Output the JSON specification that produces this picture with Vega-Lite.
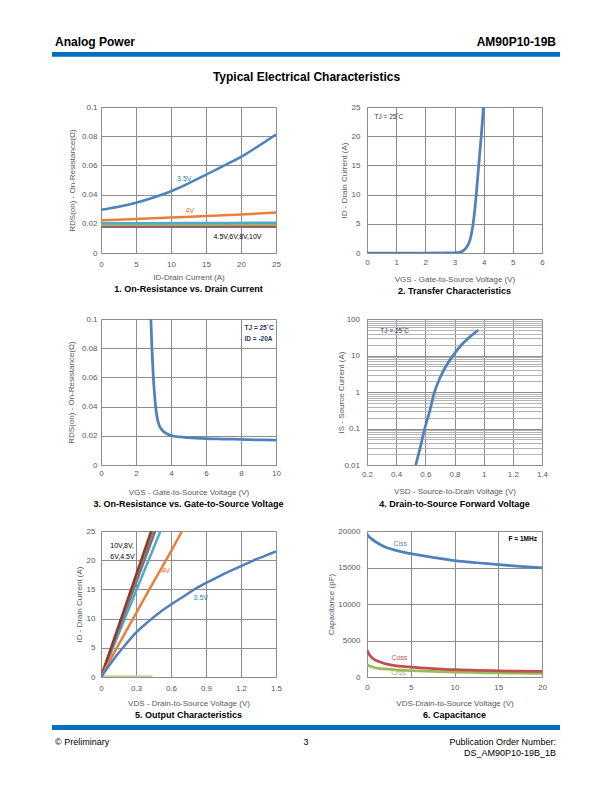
{
  "$schema": "https://vega.github.io/schema/vega-lite/v6.json",
  "padding": 0,
  "autosize": {"type": "pad"},
  "background": "white",
  "bounds": "flush",
  "columns": 2,
  "align": "each",
  "spacing": {"row": 66, "column": 91},
  "resolve": {"scale": {"x": "independent", "y": "independent", "color": "independent"}},
  "config": {
    "font": "Liberation Sans",
    "view": {"stroke": null},
    "axis": {
      "labelFont": "Liberation Sans", "labelFontSize": 8, "labelColor": "#595959",
      "titleFont": "Liberation Sans", "titleFontSize": 8, "titleFontWeight": "normal", "titleColor": "#595959",
      "gridColor": "#8c8c8c", "gridWidth": 1, "domainColor": "#8c8c8c", "domainWidth": 1,
      "ticks": false, "tickSize": 0, "labelOverlap": false, "labelFlush": false, "labelBound": false,
      "titleBaseline": "middle", "tickCount": 100
    },
    "title": {"font": "Liberation Sans", "fontSize": 9, "fontWeight": "bold", "color": "#000000", "orient": "bottom", "anchor": "middle", "offset": 4},
    "text": {"font": "Liberation Sans"}
  },
  "concat": [
    {
      "width": 175, "height": 11,
      "layer": [
        {"data": {"values": [{"k": "page"}]}, "mark": {"type": "rect", "fill": "white"},
         "encoding": {"x": {"value": -101}, "x2": {"value": 511}, "y": {"value": -30}, "y2": {"value": 762}}},
        {"data": {"values": [{"k": "bar"}]}, "mark": {"type": "rect", "fill": "#0070C0"},
         "encoding": {"x": {"value": -49}, "x2": {"value": 459}, "y": {"value": 22}, "y2": {"value": 26.7}}},
        {"data": {"values": [{"t": "Analog Power"}]}, "mark": {"type": "text", "align": "left", "baseline": "alphabetic", "fontSize": 12, "fontWeight": "bold", "color": "#000000"},
         "encoding": {"text": {"field": "t"}, "x": {"value": -46}, "y": {"value": 16}}},
        {"data": {"values": [{"t": "Typical Electrical Characteristics"}]}, "mark": {"type": "text", "align": "center", "baseline": "alphabetic", "fontSize": 12, "fontWeight": "bold", "color": "#000000"},
         "encoding": {"text": {"field": "t"}, "x": {"value": 205.5}, "y": {"value": 51}}}
      ]
    },
    {
      "width": 175, "height": 11,
      "data": {"values": [{"t": "AM90P10-19B"}]},
      "mark": {"type": "text", "align": "right", "baseline": "alphabetic", "fontSize": 12, "fontWeight": "bold", "color": "#000000"},
      "encoding": {"text": {"field": "t"}, "x": {"value": 189}, "y": {"value": 16}}
    },
    {
      "width": 175, "height": 146,
      "title": {"text": "1. On-Resistance vs. Drain Current"},
      "layer": [
        {
          "data": {"values": [
            {"s": "10V", "x": 0, "y": 0.0179}, {"s": "10V", "x": 25, "y": 0.018},
            {"s": "8V", "x": 0, "y": 0.0186}, {"s": "8V", "x": 25, "y": 0.0187},
            {"s": "6V", "x": 0, "y": 0.0193}, {"s": "6V", "x": 25, "y": 0.0195},
            {"s": "4.5V", "x": 0, "y": 0.0204}, {"s": "4.5V", "x": 12.5, "y": 0.0205}, {"s": "4.5V", "x": 25, "y": 0.0207},
            {"s": "4V", "x": 0, "y": 0.0224}, {"s": "4V", "x": 5, "y": 0.0233}, {"s": "4V", "x": 10, "y": 0.0243}, {"s": "4V", "x": 15, "y": 0.0253}, {"s": "4V", "x": 20, "y": 0.0264}, {"s": "4V", "x": 25, "y": 0.0277},
            {"s": "3.5V", "x": 0, "y": 0.0296}, {"s": "3.5V", "x": 2.5, "y": 0.0317}, {"s": "3.5V", "x": 5, "y": 0.0344}, {"s": "3.5V", "x": 7.5, "y": 0.038}, {"s": "3.5V", "x": 10, "y": 0.0423}, {"s": "3.5V", "x": 12.5, "y": 0.0477}, {"s": "3.5V", "x": 15, "y": 0.0536}, {"s": "3.5V", "x": 17.5, "y": 0.0597}, {"s": "3.5V", "x": 20, "y": 0.0658}, {"s": "3.5V", "x": 22.5, "y": 0.0733}, {"s": "3.5V", "x": 25, "y": 0.0812}
          ]},
          "mark": {"type": "line", "interpolate": "monotone", "strokeWidth": 2.5, "clip": true},
          "encoding": {
            "x": {"field": "x", "type": "quantitative", "scale": {"domain": [0, 25], "nice": false},
                  "axis": {"title": "ID-Drain Current (A)", "values": [0, 5, 10, 15, 20, 25], "tickCount": 100, "format": "d", "labelPadding": 7, "titleY": 24}},
            "y": {"field": "y", "type": "quantitative", "scale": {"domain": [0, 0.1], "nice": false},
                  "axis": {"title": "RDS(on) - On-Resistance(Ω)", "values": [0, 0.02, 0.04, 0.06, 0.08, 0.1], "tickCount": 100, "format": ".2~f", "labelPadding": 4, "titleX": -29, "titleY": 73}},
            "color": {"field": "s", "type": "nominal", "legend": null,
                      "scale": {"domain": ["10V", "8V", "6V", "4.5V", "4V", "3.5V"], "range": ["#8064A2", "#C0504D", "#9BBB59", "#4BACC6", "#E8803A", "#4F81BD"]}}
          }
        },
        {"data": {"values": [{"t": "3.5V"}]}, "mark": {"type": "text", "fontSize": 7, "color": "#31859C"},
         "encoding": {"text": {"field": "t"}, "x": {"datum": 11.9}, "y": {"datum": 0.0507}}},
        {"data": {"values": [{"t": "4V"}]}, "mark": {"type": "text", "fontSize": 7, "color": "#E46C0A"},
         "encoding": {"text": {"field": "t"}, "x": {"datum": 12.7}, "y": {"datum": 0.0285}}},
        {"data": {"values": [{"t": "4.5V,6V,8V,10V"}]}, "mark": {"type": "text", "fontSize": 7, "color": "#000000"},
         "encoding": {"text": {"field": "t"}, "x": {"datum": 19.5}, "y": {"datum": 0.011}}}
      ]
    },
    {
      "width": 175, "height": 146,
      "title": {"text": "2. Transfer Characteristics"},
      "layer": [
        {
          "data": {"values": [
            {"x": 0, "y": 0}, {"x": 1, "y": 0}, {"x": 2, "y": 0}, {"x": 3, "y": 0.02}, {"x": 3.1, "y": 0.05}, {"x": 3.2, "y": 0.15}, {"x": 3.3, "y": 0.4}, {"x": 3.4, "y": 0.9}, {"x": 3.5, "y": 1.8}, {"x": 3.55, "y": 2.6}, {"x": 3.6, "y": 3.8}, {"x": 3.65, "y": 5.4}, {"x": 3.7, "y": 7.6}, {"x": 3.75, "y": 10.2}, {"x": 3.8, "y": 13.2}, {"x": 3.85, "y": 16.1}, {"x": 3.9, "y": 19.1}, {"x": 3.95, "y": 22.1}, {"x": 3.99, "y": 25}
          ]},
          "mark": {"type": "line", "interpolate": "monotone", "strokeWidth": 2.75, "color": "#4F81BD", "clip": true},
          "encoding": {
            "x": {"field": "x", "type": "quantitative", "scale": {"domain": [0, 6], "nice": false},
                  "axis": {"title": "VGS - Gate-to-Source Voltage (V)", "values": [0, 1, 2, 3, 4, 5, 6], "tickCount": 100, "format": "d", "labelPadding": 5, "titleY": 26}},
            "y": {"field": "y", "type": "quantitative", "scale": {"domain": [0, 25], "nice": false},
                  "axis": {"title": "ID - Drain Current (A)", "values": [0, 5, 10, 15, 20, 25], "tickCount": 100, "format": "d", "labelPadding": 7, "titleX": -23, "titleY": 73}}
          }
        },
        {"data": {"values": [{"t": "TJ = 25˚C"}]}, "mark": {"type": "text", "fontSize": 6.5, "color": "#1F3864"},
         "encoding": {"text": {"field": "t"}, "x": {"datum": 0.75}, "y": {"datum": 23.3}}}
      ]
    },
    {
      "width": 175, "height": 146,
      "title": {"text": "3. On-Resistance vs. Gate-to-Source Voltage"},
      "layer": [
        {
          "data": {"values": [
            {"x": 2.85, "y": 0.1}, {"x": 2.88, "y": 0.09}, {"x": 2.91, "y": 0.08}, {"x": 2.95, "y": 0.07}, {"x": 2.99, "y": 0.06}, {"x": 3.05, "y": 0.05}, {"x": 3.12, "y": 0.04}, {"x": 3.2, "y": 0.033}, {"x": 3.3, "y": 0.028}, {"x": 3.45, "y": 0.0245}, {"x": 3.7, "y": 0.0218}, {"x": 4, "y": 0.0202}, {"x": 4.5, "y": 0.0192}, {"x": 5, "y": 0.0187}, {"x": 6, "y": 0.0181}, {"x": 7, "y": 0.0178}, {"x": 8, "y": 0.0175}, {"x": 9, "y": 0.0172}, {"x": 10, "y": 0.017}
          ]},
          "mark": {"type": "line", "interpolate": "monotone", "strokeWidth": 2.75, "color": "#4F81BD", "clip": true},
          "encoding": {
            "x": {"field": "x", "type": "quantitative", "scale": {"domain": [0, 10], "nice": false},
                  "axis": {"title": "VGS - Gate-to-Source Voltage (V)", "values": [0, 2, 4, 6, 8, 10], "tickCount": 100, "format": "d", "labelPadding": 4.5, "titleY": 27}},
            "y": {"field": "y", "type": "quantitative", "scale": {"domain": [0, 0.1], "nice": false},
                  "axis": {"title": "RDS(on) - On-Resistance(Ω)", "values": [0, 0.02, 0.04, 0.06, 0.08, 0.1], "tickCount": 100, "format": ".2~f", "labelPadding": 4, "titleX": -30, "titleY": 73}}
          }
        },
        {"data": {"values": [{"t": "TJ = 25˚C"}]}, "mark": {"type": "text", "fontSize": 6.5, "fontWeight": "bold", "align": "left", "color": "#1F3864"},
         "encoding": {"text": {"field": "t"}, "x": {"datum": 8.2}, "y": {"datum": 0.094}}},
        {"data": {"values": [{"t": "ID = -20A"}]}, "mark": {"type": "text", "fontSize": 6.5, "fontWeight": "bold", "align": "left", "color": "#1F3864"},
         "encoding": {"text": {"field": "t"}, "x": {"datum": 8.2}, "y": {"datum": 0.086}}}
      ]
    },
    {
      "width": 175, "height": 146,
      "title": {"text": "4. Drain-to-Source Forward Voltage"},
      "layer": [
        {
          "data": {"values": [
            {"x": 0.534, "y": 0.01}, {"x": 0.565, "y": 0.03}, {"x": 0.596, "y": 0.1}, {"x": 0.63, "y": 0.3}, {"x": 0.663, "y": 1}, {"x": 0.7, "y": 2.4}, {"x": 0.74, "y": 5}, {"x": 0.79, "y": 10}, {"x": 0.85, "y": 20}, {"x": 0.9, "y": 31}, {"x": 0.963, "y": 50}
          ]},
          "mark": {"type": "line", "interpolate": "monotone", "strokeWidth": 2.75, "color": "#4F81BD", "clip": true},
          "encoding": {
            "x": {"field": "x", "type": "quantitative", "scale": {"domain": [0.2, 1.4], "nice": false, "zero": false},
                  "axis": {"title": "VSD - Source-to-Drain Voltage (V)", "values": [0.2, 0.4, 0.6, 0.8, 1, 1.2, 1.4], "tickCount": 100, "format": ".1~f", "labelPadding": 5.5, "titleY": 26.5}},
            "y": {"field": "y", "type": "quantitative", "scale": {"type": "log", "domain": [0.01, 100], "nice": false},
                  "axis": {"title": "IS - Source Current (A)",
                           "values": [0.01, 0.02, 0.03, 0.04, 0.05, 0.06, 0.07, 0.08, 0.09, 0.1, 0.2, 0.3, 0.4, 0.5, 0.6, 0.7, 0.8, 0.9, 1, 2, 3, 4, 5, 6, 7, 8, 9, 10, 20, 30, 40, 50, 60, 70, 80, 90, 100],
                           "tickCount": 100,
                           "format": ".2~f",
                           "labelExpr": "indexof(['0.01','0.1','1','10','100'], datum.label) >= 0 ? datum.label : ''",
                           "gridColor": {"condition": {"test": "indexof([0.01, 0.1, 1, 10, 100], datum.value) >= 0", "value": "#8c8c8c"}, "value": "#b4b4b4"},
                           "labelPadding": 7.5, "titleX": -26, "titleY": 73}}
          }
        },
        {"data": {"values": [{"t": "TJ = 25˚C"}]}, "mark": {"type": "text", "fontSize": 6.5, "color": "#1F3864"},
         "encoding": {"text": {"field": "t"}, "x": {"datum": 0.39}, "y": {"datum": 47}}}
      ]
    },
    {
      "width": 175, "height": 146,
      "title": {"text": "5. Output Characteristics"},
      "layer": [
        {
          "data": {"values": [
            {"s": "3V", "x": 0, "y": 0.1}, {"s": "3V", "x": 0.44, "y": 0.1},
            {"s": "4.5V", "x": 0, "y": 0}, {"s": "4.5V", "x": 0.51, "y": 25},
            {"s": "6V", "x": 0, "y": 0}, {"s": "6V", "x": 0.465, "y": 25},
            {"s": "8V", "x": 0, "y": 0}, {"s": "8V", "x": 0.445, "y": 25},
            {"s": "10V", "x": 0, "y": 0}, {"s": "10V", "x": 0.43, "y": 25},
            {"s": "4V", "x": 0, "y": 0}, {"s": "4V", "x": 0.1, "y": 3.7}, {"s": "4V", "x": 0.2, "y": 7.3}, {"s": "4V", "x": 0.3, "y": 10.9}, {"s": "4V", "x": 0.4, "y": 14.5}, {"s": "4V", "x": 0.5, "y": 18.0}, {"s": "4V", "x": 0.6, "y": 21.5}, {"s": "4V", "x": 0.695, "y": 25},
            {"s": "3.5V", "x": 0, "y": 0}, {"s": "3.5V", "x": 0.05, "y": 1.4}, {"s": "3.5V", "x": 0.1, "y": 2.8}, {"s": "3.5V", "x": 0.15, "y": 4.1}, {"s": "3.5V", "x": 0.2, "y": 5.3}, {"s": "3.5V", "x": 0.3, "y": 7.6}, {"s": "3.5V", "x": 0.4, "y": 9.4}, {"s": "3.5V", "x": 0.5, "y": 11.0}, {"s": "3.5V", "x": 0.6, "y": 12.4}, {"s": "3.5V", "x": 0.7, "y": 13.7}, {"s": "3.5V", "x": 0.8, "y": 15.0}, {"s": "3.5V", "x": 0.9, "y": 16.1}, {"s": "3.5V", "x": 1.0, "y": 17.1}, {"s": "3.5V", "x": 1.1, "y": 18.1}, {"s": "3.5V", "x": 1.2, "y": 19.0}, {"s": "3.5V", "x": 1.3, "y": 19.9}, {"s": "3.5V", "x": 1.4, "y": 20.7}, {"s": "3.5V", "x": 1.5, "y": 21.5}
          ]},
          "mark": {"type": "line", "interpolate": "monotone", "strokeWidth": 2.5, "clip": true},
          "encoding": {
            "x": {"field": "x", "type": "quantitative", "scale": {"domain": [0, 1.5], "nice": false},
                  "axis": {"title": "VDS - Drain-to-Source Voltage (V)", "values": [0, 0.3, 0.6, 0.9, 1.2, 1.5], "tickCount": 100, "format": ".1~f", "labelPadding": 7, "titleY": 26}},
            "y": {"field": "y", "type": "quantitative", "scale": {"domain": [0, 25], "nice": false},
                  "axis": {"title": "ID - Drain Current (A)", "values": [0, 5, 10, 15, 20, 25], "tickCount": 100, "format": "d", "labelPadding": 6, "titleX": -22, "titleY": 73}},
            "color": {"field": "s", "type": "nominal", "legend": null,
                      "scale": {"domain": ["3V", "4.5V", "6V", "8V", "10V", "4V", "3.5V"], "range": ["#C3D69B", "#4BACC6", "#8064A2", "#77933C", "#943634", "#E8803A", "#4F81BD"]}}
          }
        },
        {"data": {"values": [{"t": "10V,8V,"}]}, "mark": {"type": "text", "fontSize": 7, "align": "left", "color": "#000000"},
         "encoding": {"text": {"field": "t"}, "x": {"datum": 0.08}, "y": {"datum": 22.4}}},
        {"data": {"values": [{"t": "6V,4.5V"}]}, "mark": {"type": "text", "fontSize": 7, "align": "left", "color": "#000000"},
         "encoding": {"text": {"field": "t"}, "x": {"datum": 0.08}, "y": {"datum": 20.6}}},
        {"data": {"values": [{"t": "4V"}]}, "mark": {"type": "text", "fontSize": 7, "color": "#E46C0A"},
         "encoding": {"text": {"field": "t"}, "x": {"datum": 0.555}, "y": {"datum": 18.1}}},
        {"data": {"values": [{"t": "3.5V"}]}, "mark": {"type": "text", "fontSize": 7, "color": "#31859C"},
         "encoding": {"text": {"field": "t"}, "x": {"datum": 0.855}, "y": {"datum": 13.5}}}
      ]
    },
    {
      "width": 175, "height": 146,
      "title": {"text": "6. Capacitance"},
      "layer": [
        {
          "data": {"values": [
            {"s": "Crss", "x": 0, "y": 1700}, {"s": "Crss", "x": 0.3, "y": 1500}, {"s": "Crss", "x": 0.7, "y": 1350}, {"s": "Crss", "x": 1, "y": 1250}, {"s": "Crss", "x": 2, "y": 1100}, {"s": "Crss", "x": 3, "y": 1000}, {"s": "Crss", "x": 5, "y": 880}, {"s": "Crss", "x": 7.5, "y": 760}, {"s": "Crss", "x": 10, "y": 680}, {"s": "Crss", "x": 12.5, "y": 610}, {"s": "Crss", "x": 15, "y": 560}, {"s": "Crss", "x": 17.5, "y": 520}, {"s": "Crss", "x": 20, "y": 480},
            {"s": "Coss", "x": 0, "y": 3700}, {"s": "Coss", "x": 0.15, "y": 3300}, {"s": "Coss", "x": 0.3, "y": 3000}, {"s": "Coss", "x": 0.6, "y": 2600}, {"s": "Coss", "x": 1, "y": 2300}, {"s": "Coss", "x": 1.5, "y": 2050}, {"s": "Coss", "x": 2, "y": 1850}, {"s": "Coss", "x": 3, "y": 1600}, {"s": "Coss", "x": 4, "y": 1450}, {"s": "Coss", "x": 5, "y": 1350}, {"s": "Coss", "x": 7.5, "y": 1150}, {"s": "Coss", "x": 10, "y": 1000}, {"s": "Coss", "x": 12.5, "y": 920}, {"s": "Coss", "x": 15, "y": 850}, {"s": "Coss", "x": 17.5, "y": 800}, {"s": "Coss", "x": 20, "y": 760},
            {"s": "Ciss", "x": 0, "y": 19600}, {"s": "Ciss", "x": 0.25, "y": 19200}, {"s": "Ciss", "x": 0.5, "y": 18950}, {"s": "Ciss", "x": 1, "y": 18500}, {"s": "Ciss", "x": 1.5, "y": 18150}, {"s": "Ciss", "x": 2, "y": 17850}, {"s": "Ciss", "x": 3, "y": 17450}, {"s": "Ciss", "x": 4, "y": 17150}, {"s": "Ciss", "x": 5, "y": 16900}, {"s": "Ciss", "x": 6, "y": 16700}, {"s": "Ciss", "x": 7.5, "y": 16400}, {"s": "Ciss", "x": 10, "y": 15950}, {"s": "Ciss", "x": 12.5, "y": 15650}, {"s": "Ciss", "x": 15, "y": 15400}, {"s": "Ciss", "x": 17.5, "y": 15150}, {"s": "Ciss", "x": 20, "y": 14950}
          ]},
          "mark": {"type": "line", "interpolate": "monotone", "strokeWidth": 2.75, "clip": true},
          "encoding": {
            "x": {"field": "x", "type": "quantitative", "scale": {"domain": [0, 20], "nice": false},
                  "axis": {"title": "VDS-Drain-to-Source Voltage (V)", "values": [0, 5, 10, 15, 20], "tickCount": 100, "format": "d", "labelPadding": 6, "titleY": 26}},
            "y": {"field": "y", "type": "quantitative", "scale": {"domain": [0, 20000], "nice": false},
                  "axis": {"title": "Capacitance (pF)", "values": [0, 5000, 10000, 15000, 20000], "tickCount": 100, "format": "d", "labelPadding": 7, "titleX": -36, "titleY": 73}},
            "color": {"field": "s", "type": "nominal", "legend": null,
                      "scale": {"domain": ["Crss", "Coss", "Ciss"], "range": ["#9BBB59", "#C0504D", "#4F81BD"]}}
          }
        },
        {"data": {"values": [{"t": "Ciss"}]}, "mark": {"type": "text", "fontSize": 7, "color": "#4F81BD"},
         "encoding": {"text": {"field": "t"}, "x": {"datum": 3.8}, "y": {"datum": 18270}}},
        {"data": {"values": [{"t": "Coss"}]}, "mark": {"type": "text", "fontSize": 7, "color": "#C0504D"},
         "encoding": {"text": {"field": "t"}, "x": {"datum": 3.7}, "y": {"datum": 2600}}},
        {"data": {"values": [{"t": "Crss"}]}, "mark": {"type": "text", "fontSize": 7, "color": "#9BBB59"},
         "encoding": {"text": {"field": "t"}, "x": {"datum": 3.6}, "y": {"datum": 550}}},
        {"data": {"values": [{"t": "F = 1MHz"}]}, "mark": {"type": "text", "fontSize": 6.5, "fontWeight": "bold", "color": "#000000"},
         "encoding": {"text": {"field": "t"}, "x": {"datum": 17.8}, "y": {"datum": 18860}}}
      ]
    },
    {
      "width": 175, "height": 11,
      "layer": [
        {"data": {"values": [{"k": "bar"}]}, "mark": {"type": "rect", "fill": "#0070C0"},
         "encoding": {"x": {"value": -49}, "x2": {"value": 459}, "y": {"value": -18}, "y2": {"value": -13}}},
        {"data": {"values": [{"t": "© Preliminary"}]}, "mark": {"type": "text", "align": "left", "baseline": "alphabetic", "fontSize": 9, "color": "#000000"},
         "encoding": {"text": {"field": "t"}, "x": {"value": -46}, "y": {"value": 1.5}}},
        {"data": {"values": [{"t": "3"}]}, "mark": {"type": "text", "align": "center", "baseline": "alphabetic", "fontSize": 9, "color": "#000000"},
         "encoding": {"text": {"field": "t"}, "x": {"value": 205}, "y": {"value": 1.5}}}
      ]
    },
    {
      "width": 175, "height": 11,
      "layer": [
        {"data": {"values": [{"t": "Publication Order Number:"}]}, "mark": {"type": "text", "align": "right", "baseline": "alphabetic", "fontSize": 9, "color": "#000000"},
         "encoding": {"text": {"field": "t"}, "x": {"value": 189}, "y": {"value": 1.5}}},
        {"data": {"values": [{"t": "DS_AM90P10-19B_1B"}]}, "mark": {"type": "text", "align": "right", "baseline": "alphabetic", "fontSize": 9, "color": "#000000"},
         "encoding": {"text": {"field": "t"}, "x": {"value": 189}, "y": {"value": 13}}}
      ]
    }
  ]
}
